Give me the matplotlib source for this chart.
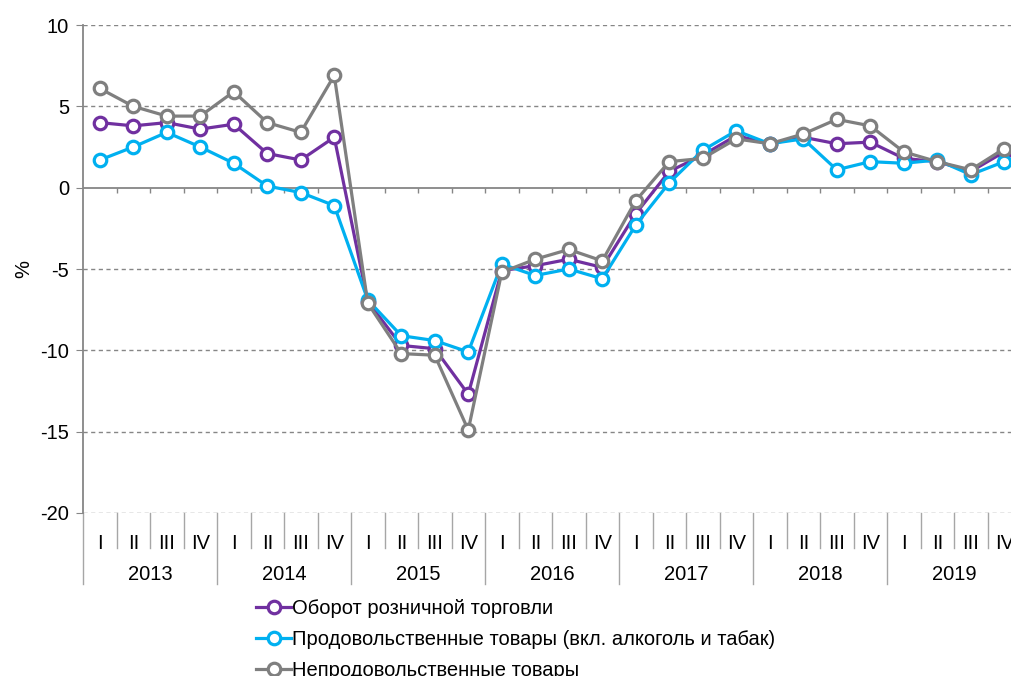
import numpy as np
import matplotlib
matplotlib.use('Agg')
import matplotlib.pyplot as plt
import matplotlib.transforms as mtransforms

plt.rcParams['font.family'] = ['Liberation Sans', 'DejaVu Sans']
plt.rcParams['axes.unicode_minus'] = False

years = ['2013', '2014', '2015', '2016', '2017', '2018', '2019']
quarters = ['I', 'II', 'III', 'IV']

retail = [4.0, 3.8, 4.0, 3.6, 3.9, 2.1, 1.7, 3.1,
          -7.0, -9.7, -9.9, -12.7, -5.1, -4.8, -4.4, -4.9,
          -1.6, 1.0, 2.0, 3.2, 2.7, 3.1, 2.7, 2.8,
          1.8, 1.6, 1.0, 2.2]
food = [1.7, 2.5, 3.4, 2.5, 1.5, 0.1, -0.3, -1.1,
        -6.9, -9.1, -9.4, -10.1, -4.7, -5.4, -5.0, -5.6,
        -2.3, 0.3, 2.3, 3.5, 2.7, 3.0, 1.1, 1.6,
        1.5, 1.7, 0.8, 1.6]
nonfood = [6.1, 5.0, 4.4, 4.4, 5.9, 4.0, 3.4, 6.9,
           -7.1, -10.2, -10.3, -14.9, -5.2, -4.4, -3.8, -4.5,
           -0.8, 1.6, 1.8, 3.0, 2.7, 3.3, 4.2, 3.8,
           2.2, 1.6, 1.1, 2.4]

labels = ['Оборот розничной торговли',
          'Продовольственные товары (вкл. алкоголь и табак)',
          'Непродовольственные товары']
colors = ['#7030A0', '#00B0F0', '#7F7F7F']

x = np.arange(len(retail))
grey = '#868686'
fs = 14.5

fig = plt.figure(figsize=(10.11, 6.76), dpi=100)
# right edge runs past the picture, like in the original
ax = fig.add_axes([83 / 1011, 1 - 513 / 676, 938 / 1011, 488 / 676])

for i in range(-20, 11, 5):
    if i == 0:
        continue
    ax.axhline(i, color=grey, lw=1.0, ls=(0, (3, 2.5)), zorder=1)
ax.axhline(0, color=grey, lw=1.3, zorder=2)
# small ticks under the zero line between quarters
ax.vlines(x[:-1] + 0.5, -0.3, 0, color=grey, lw=1.0, zorder=2)

for vals, c, lab in zip([retail, food, nonfood], colors, labels):
    ax.plot(x, vals, color=c, lw=2.3, marker='o', ms=9, mfc='white',
            mec=c, mew=2.3, label=lab, zorder=3)

ax.set_xlim(-0.5, len(retail) - 0.5)
ax.set_ylim(-20, 10)
ax.set_yticks(range(-20, 11, 5))
ax.tick_params(axis='y', labelsize=fs, length=5, color=grey, pad=5)
ax.set_xticks(x)
ax.set_xticklabels(quarters * len(years))
ax.tick_params(axis='x', labelsize=fs, length=0, pad=15)
for s in ['top', 'right', 'bottom']:
    ax.spines[s].set_visible(False)
ax.spines['left'].set_color(grey)
ax.spines['left'].set_linewidth(1.3)

ax.set_ylabel('%', fontsize=fs, labelpad=5)

trans = mtransforms.blended_transform_factory(ax.transData, ax.transAxes)
q_depth = 35 / 488
y_depth = 71 / 488
for b in np.arange(-0.5, len(retail), 1.0):
    k = int(b + 0.5)
    depth = y_depth if k % 4 == 0 else q_depth
    ax.plot([b, b], [0, -depth], transform=trans, color='#A6A6A6',
            lw=1.0, clip_on=False)
for j, yr in enumerate(years):
    ax.text(4 * j + 1.5, -62 / 488, yr, transform=trans, ha='center',
            va='center', fontsize=fs)

fig.legend(loc='upper left', bbox_to_anchor=(256 / 1011, 1 - 599 / 676),
           frameon=False, fontsize=fs, handlelength=1.75, handletextpad=0.05,
           labelspacing=0.6, borderaxespad=0, borderpad=0)

fig.savefig('out.png', dpi=100)
